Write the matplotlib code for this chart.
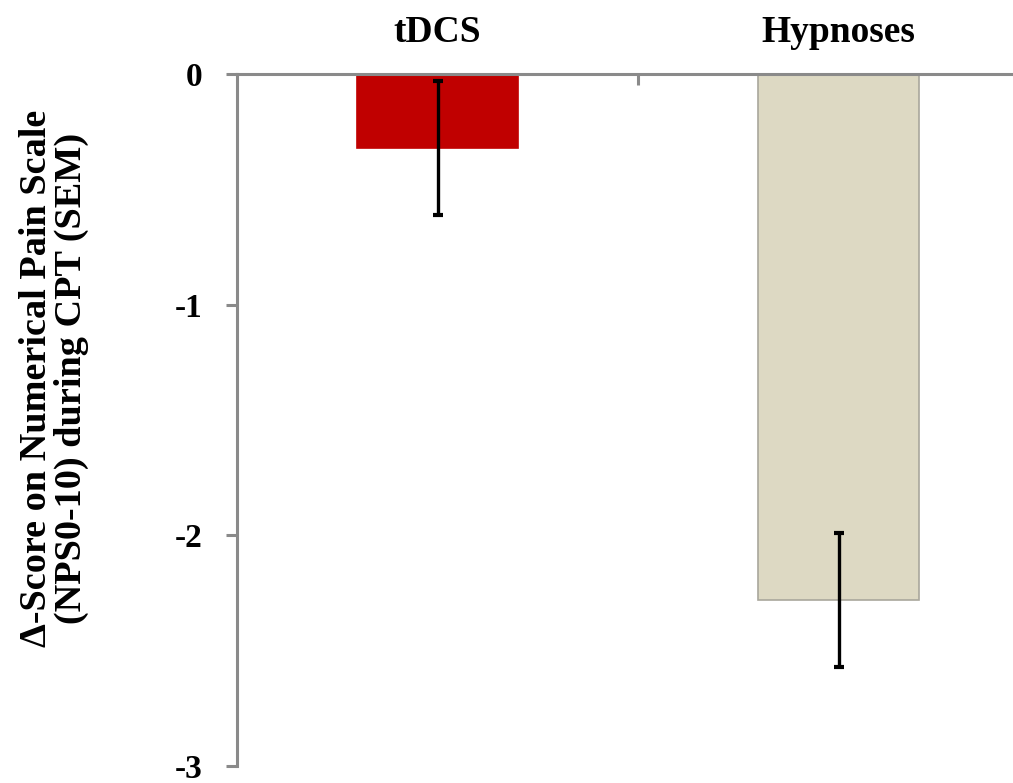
import numpy as np
import matplotlib
matplotlib.use('Agg')
import matplotlib.pyplot as plt

# values
groups = ['tDCS', 'Hypnoses']
means = [-0.32, -2.28]
sems = [0.29, 0.29]
colors = ['#C00000', '#DDD9C3']
edges = ['#C00000', '#A9A79C']

plt.rcParams['font.family'] = ['Liberation Serif', 'DejaVu Serif']
plt.rcParams['font.weight'] = 'bold'

fig = plt.figure(figsize=(10.13, 7.83), dpi=100)
W, H = 1013., 783.
ax = fig.add_axes([237/W, (H-766)/H, 1-237/W, (766-74)/H])

x = np.arange(len(groups))
ax.bar(x, means, width=0.4, color=colors, edgecolor=edges, linewidth=1.2, zorder=2)
ax.errorbar(x, means, yerr=sems, fmt='none', ecolor='black', elinewidth=2.4,
            capsize=3.5, capthick=3, zorder=3)

ax.set_xlim(-0.5, -0.5 + (W-237)/401.)
ax.set_ylim(-3, 0)

grey = '#8A8A8A'
for s in ['bottom', 'right']:
    ax.spines[s].set_visible(False)
for s in ['left', 'top']:
    ax.spines[s].set_color(grey)
    ax.spines[s].set_linewidth(2.2)

ax.set_yticks([0, -1, -2, -3])
ax.set_yticklabels(['0', '-1', '-2', '-3'])
ax.tick_params(axis='y', direction='out', length=8, width=2.2, color=grey,
               labelsize=24, pad=17)

ax.xaxis.tick_top()
ax.set_xticks(x)
ax.set_xticklabels(groups)
ax.set_xticks([0.5], minor=True)
ax.tick_params(axis='x', which='major', length=0, labelsize=27, pad=17)
ax.tick_params(axis='x', which='minor', direction='in', length=8, width=2.2, color=grey)

fig.text(54/W, 1-378/H, '\u0394-Score on Numerical Pain Scale\n(NPS0-10) during CPT (SEM)',
         rotation=90, ha='center', va='center', multialignment='center',
         fontsize=27.5, fontweight='bold', linespacing=1.0)

fig.savefig('out.png', dpi=100)
